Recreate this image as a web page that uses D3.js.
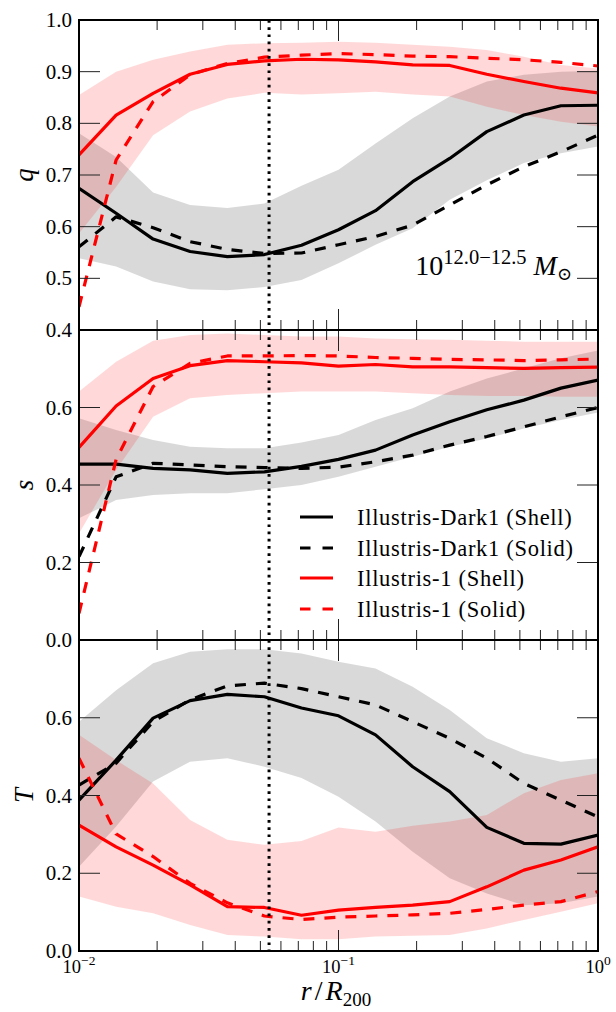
<!DOCTYPE html>
<html>
<head>
<meta charset="utf-8">
<script src="https://cdn.jsdelivr.net/npm/d3@7"></script>
<style>
  html, body { margin: 0; padding: 0; background: #fff; }
  svg { display: block; }
  text { font-family: "Liberation Serif", "DejaVu Serif", serif; fill: #000; }
</style>
</head>
<body>
<svg id="chart" width="616" height="1012"></svg>
<script>
// Radial bins r / R200
const rBins = [0.0100, 0.0139, 0.0193, 0.0268, 0.0373, 0.0518, 0.0720, 0.1000,
               0.1389, 0.1931, 0.2683, 0.3728, 0.5179, 0.7197, 1.0000];

// Axis ratio q = b/a
const qDarkShell  = [0.674,0.626,0.576,0.552,0.542,0.546,0.564,0.594,0.631,0.687,0.732,0.784,0.816,0.834,0.835];
const qDarkSolid  = [0.561,0.619,0.598,0.571,0.556,0.548,0.549,0.565,0.581,0.603,0.642,0.681,0.716,0.745,0.777];
const qHydroShell = [0.739,0.816,0.858,0.895,0.914,0.921,0.924,0.923,0.919,0.913,0.912,0.895,0.881,0.868,0.859];
const qHydroSolid = [0.445,0.729,0.842,0.894,0.916,0.928,0.932,0.935,0.933,0.930,0.929,0.926,0.923,0.918,0.911];
const qDarkLo  = [0.539,0.523,0.494,0.479,0.477,0.483,0.497,0.529,0.565,0.597,0.652,0.690,0.723,0.742,0.755];
const qDarkHi  = [0.781,0.735,0.666,0.642,0.636,0.645,0.679,0.710,0.761,0.810,0.852,0.881,0.894,0.900,0.902];
const qHydroLo = [0.587,0.677,0.777,0.823,0.848,0.859,0.856,0.858,0.861,0.856,0.852,0.832,0.816,0.803,0.794];
const qHydroHi = [0.855,0.900,0.923,0.939,0.952,0.955,0.956,0.958,0.956,0.952,0.948,0.942,0.929,0.913,0.906];

// Axis ratio s = c/a
const sDarkShell  = [0.454,0.454,0.443,0.439,0.430,0.434,0.448,0.466,0.490,0.529,0.563,0.594,0.619,0.650,0.671];
const sDarkSolid  = [0.215,0.421,0.456,0.452,0.447,0.445,0.443,0.446,0.460,0.477,0.503,0.525,0.550,0.576,0.600];
const sHydroShell = [0.497,0.604,0.675,0.708,0.721,0.718,0.715,0.707,0.711,0.705,0.705,0.703,0.701,0.703,0.704];
const sHydroSolid = [0.069,0.466,0.654,0.714,0.733,0.733,0.734,0.733,0.729,0.727,0.724,0.723,0.721,0.723,0.725];
const sDarkLo  = [0.314,0.361,0.374,0.379,0.379,0.389,0.400,0.421,0.447,0.473,0.499,0.520,0.546,0.568,0.587];
const sDarkHi  = [0.572,0.542,0.516,0.499,0.495,0.495,0.510,0.529,0.568,0.598,0.641,0.675,0.701,0.727,0.747];
const sHydroLo = [0.275,0.439,0.576,0.624,0.632,0.637,0.641,0.641,0.641,0.637,0.632,0.630,0.630,0.628,0.628];
const sHydroHi = [0.641,0.718,0.772,0.787,0.791,0.787,0.783,0.783,0.778,0.776,0.775,0.772,0.770,0.770,0.770];

// Triaxiality T
const tDarkShell  = [0.388,0.491,0.599,0.644,0.660,0.654,0.625,0.605,0.556,0.474,0.410,0.318,0.277,0.275,0.298];
const tDarkSolid  = [0.427,0.483,0.590,0.646,0.682,0.689,0.675,0.654,0.633,0.590,0.547,0.496,0.431,0.388,0.345];
const tHydroShell = [0.324,0.268,0.221,0.170,0.114,0.112,0.092,0.105,0.112,0.118,0.127,0.165,0.208,0.234,0.268];
const tHydroSolid = [0.496,0.301,0.243,0.174,0.124,0.090,0.081,0.087,0.090,0.093,0.097,0.107,0.118,0.127,0.153];
const tDarkLo  = [0.217,0.320,0.436,0.487,0.496,0.474,0.445,0.397,0.333,0.255,0.187,0.148,0.118,0.123,0.140];
const tDarkHi  = [0.590,0.671,0.740,0.770,0.776,0.776,0.765,0.744,0.727,0.680,0.620,0.547,0.509,0.487,0.496];
const tHydroLo = [0.140,0.114,0.097,0.067,0.041,0.037,0.030,0.030,0.037,0.039,0.041,0.058,0.080,0.101,0.123];
const tHydroHi = [0.556,0.491,0.431,0.337,0.286,0.273,0.283,0.318,0.307,0.322,0.333,0.350,0.406,0.440,0.457];

// Characteristic radius marked by the dotted line
const rMark = 0.054;

// Tick labels
const qTicks = [0.4, 0.5, 0.6, 0.7, 0.8, 0.9, 1.0];
const sTicks = [0.0, 0.2, 0.4, 0.6];
const tTicks = [0.0, 0.2, 0.4, 0.6];
const sMajor = [0.0, 0.2, 0.4, 0.6, 0.8];
const xMajor = [0.01, 0.1, 1];
const xMajorExp = ["\u22122", "\u22121", "0"];

const legendLabels = ["Illustris-Dark1 (Shell)", "Illustris-Dark1 (Solid)",
                      "Illustris-1 (Shell)", "Illustris-1 (Solid)"];

// ---- layout ----
const svg = d3.select("#chart");
const left = 79, right = 598;
const x = d3.scaleLog().domain([0.01, 1]).range([left, right]);

const panels = [
  { key: "q", top: 20,  bottom: 330, domain: [0.4, 1.0], major: qTicks, labels: qTicks,
    dark: [qDarkShell, qDarkSolid, qDarkLo, qDarkHi], hydro: [qHydroShell, qHydroSolid, qHydroLo, qHydroHi] },
  { key: "s", top: 330, bottom: 640, domain: [0.0, 0.8], major: sMajor, labels: sTicks,
    dark: [sDarkShell, sDarkSolid, sDarkLo, sDarkHi], hydro: [sHydroShell, sHydroSolid, sHydroLo, sHydroHi] },
  { key: "T", top: 640, bottom: 951, domain: [0.0, 0.8], major: sMajor, labels: tTicks,
    dark: [tDarkShell, tDarkSolid, tDarkLo, tDarkHi], hydro: [tHydroShell, tHydroSolid, tHydroLo, tHydroHi] }
];

const red = "#ff0000";
const dash = "11,10";

const defs = svg.append("defs");

panels.forEach((p, i) => {
  const y = d3.scaleLinear().domain(p.domain).range([p.bottom, p.top]);
  const clipId = "clip" + i;
  defs.append("clipPath").attr("id", clipId)
    .append("rect").attr("x", left).attr("y", p.top)
    .attr("width", right - left).attr("height", p.bottom - p.top);

  const g = svg.append("g").attr("clip-path", `url(#${clipId})`);

  const area = (lo, hi) => d3.area()
    .x((d, k) => x(rBins[k])).y0((d, k) => y(lo[k])).y1((d, k) => y(hi[k]))(rBins);
  const line = vals => d3.line().x((d, k) => x(rBins[k])).y(d => y(d))(vals);

  // scatter bands
  g.append("path").attr("d", area(p.dark[2], p.dark[3]))
    .attr("fill", "#000").attr("fill-opacity", 0.15);
  g.append("path").attr("d", area(p.hydro[2], p.hydro[3]))
    .attr("fill", red).attr("fill-opacity", 0.15);

  // median profiles
  const series = [
    { v: p.dark[0], c: "#000", d: null },
    { v: p.dark[1], c: "#000", d: dash },
    { v: p.hydro[0], c: red, d: null },
    { v: p.hydro[1], c: red, d: dash }
  ];
  series.forEach(s => {
    g.append("path").attr("d", line(s.v))
      .attr("fill", "none").attr("stroke", s.c).attr("stroke-width", 3.2)
      .attr("stroke-linejoin", "round")
      .attr("stroke-dasharray", s.d);
  });

  // characteristic radius
  g.append("line")
    .attr("x1", x(rMark)).attr("x2", x(rMark))
    .attr("y1", p.top).attr("y2", p.bottom)
    .attr("stroke", "#000").attr("stroke-width", 3)
    .attr("stroke-dasharray", "2.7,4.5");

  // ticks
  const tk = svg.append("g").attr("stroke", "#222").attr("stroke-width", 1);
  p.major.forEach(v => {
    tk.append("line").attr("x1", left).attr("x2", left + 21).attr("y1", y(v)).attr("y2", y(v));
    tk.append("line").attr("x1", right - 21).attr("x2", right).attr("y1", y(v)).attr("y2", y(v));
  });
  const xTicksAll = x.ticks();
  xTicksAll.forEach(v => {
    const major = xMajor.some(m => Math.abs(m - v) / m < 1e-6);
    const len = major ? 21 : 10;
    tk.append("line").attr("x1", x(v)).attr("x2", x(v)).attr("y1", p.bottom).attr("y2", p.bottom - len);
    tk.append("line").attr("x1", x(v)).attr("x2", x(v)).attr("y1", p.top).attr("y2", p.top + len);
  });

  // y tick labels
  svg.append("g").selectAll("text").data(p.labels).join("text")
    .attr("x", left - 7).attr("y", d => y(d) + 7)
    .attr("text-anchor", "end").attr("font-size", 21)
    .text(d => d.toFixed(1));

  // y axis title
  svg.append("text")
    .attr("transform", `translate(33,${(p.top + p.bottom) / 2}) rotate(-90)`)
    .attr("text-anchor", "middle").attr("font-size", 27).attr("font-style", "italic")
    .text(p.key);

  // frame
  svg.append("rect").attr("x", left).attr("y", p.top)
    .attr("width", right - left).attr("height", p.bottom - p.top)
    .attr("fill", "none").attr("stroke", "#000").attr("stroke-width", 2);
});

// x tick labels
xMajor.forEach((v, i) => {
  const t = svg.append("text").attr("x", x(v)).attr("y", 973)
    .attr("text-anchor", "middle").attr("font-size", 18.5);
  t.append("tspan").text("10");
  t.append("tspan").attr("dy", -8).attr("font-size", 13.5).text(xMajorExp[i]);
});

// x axis title
const xt = svg.append("text").attr("x", 336).attr("y", 1000)
  .attr("text-anchor", "middle").attr("font-size", 28);
xt.append("tspan").attr("font-style", "italic").text("r");
xt.append("tspan").attr("dx", 3).text("/");
xt.append("tspan").attr("dx", 3).attr("font-style", "italic").text("R");
xt.append("tspan").attr("dy", 6).attr("font-size", 19).text("200");

// mass bin annotation
const ann = svg.append("text").attr("x", 572).attr("y", 275)
  .attr("text-anchor", "end").attr("font-size", 28);
ann.append("tspan").text("10");
ann.append("tspan").attr("dy", -11).attr("font-size", 20.5).text("12.0\u221212.5");
ann.append("tspan").attr("dy", 11).attr("font-size", 28).attr("font-style", "italic").text(" M");
ann.append("tspan").attr("dy", 5).attr("font-size", 18).text("\u2299");

// legend
const legendStyles = [
  { c: "#000", d: null }, { c: "#000", d: "10.5,12" },
  { c: red, d: null }, { c: red, d: "10.5,12" }
];
const legendY = [517, 548, 578, 609];
legendLabels.forEach((lab, i) => {
  svg.append("line").attr("x1", 300).attr("x2", 333)
    .attr("y1", legendY[i]).attr("y2", legendY[i])
    .attr("stroke", legendStyles[i].c).attr("stroke-width", 3.2)
    .attr("stroke-dasharray", legendStyles[i].d);
  svg.append("text").attr("x", 357).attr("y", legendY[i] + 8)
    .attr("font-size", 22.5).attr("letter-spacing", 0.7).text(lab);
});
</script>
</body>
</html>
